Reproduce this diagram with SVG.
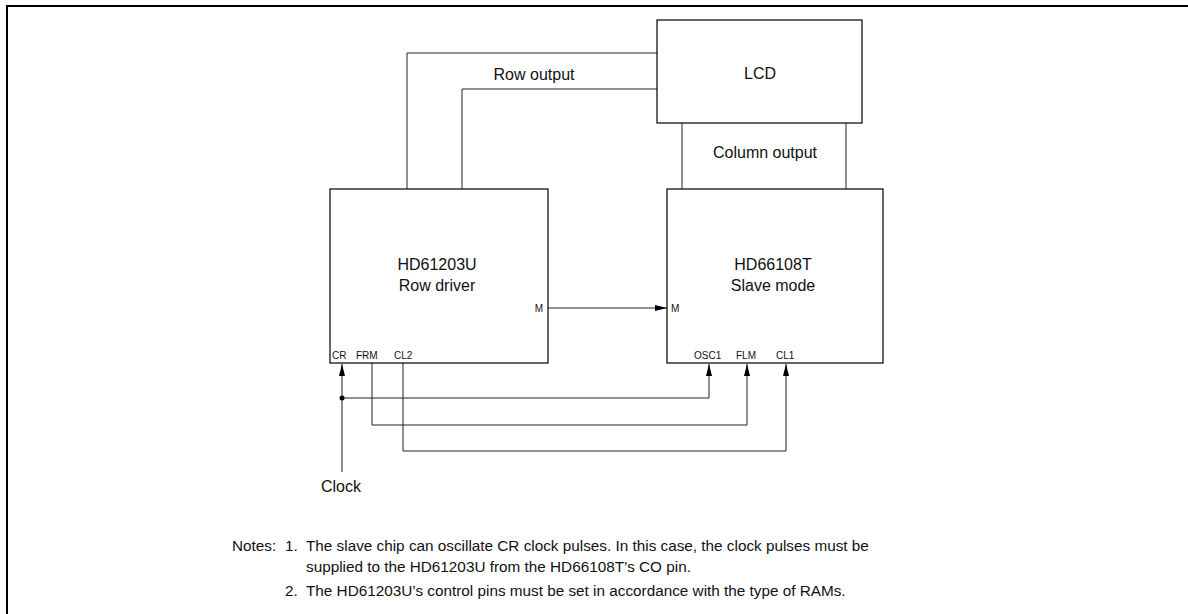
<svg xmlns="http://www.w3.org/2000/svg" width="1188" height="614" viewBox="0 0 1188 614">
<defs>
<marker id="ah" viewBox="0 0 12 6" refX="12" refY="3" markerWidth="12" markerHeight="6" markerUnits="userSpaceOnUse" orient="auto">
<path d="M0,0 L12,3 L0,6 Z" fill="#000"/>
</marker>
<style>
.box{fill:#fff;stroke:#000;stroke-width:1.2}
.ln{fill:none;stroke:#222;stroke-width:1}
.t{font-family:"Liberation Sans",Arial,sans-serif;fill:#111}
.big{font-size:16px;text-anchor:middle}
.pin{font-size:10px}
.note{font-size:15.3px}
</style>
</defs>
<rect x="0" y="0" width="1188" height="614" fill="#fff"/>
<path d="M7,614 V6 H1188" fill="none" stroke="#000" stroke-width="2"/>
<g id="connectors">
<path class="ln" d="M407,189 V53 H657"/>
<path class="ln" d="M462,189 V89 H657"/>
<path class="ln" d="M682,123 V189"/>
<path class="ln" d="M846,123 V189"/>
<path class="ln" d="M548,308 H667" marker-end="url(#ah)"/>
<path class="ln" d="M342,472 V364" marker-end="url(#ah)"/>
<path class="ln" d="M342,398 H709 V364" marker-end="url(#ah)"/>
<path class="ln" d="M372,363 V425 H747 V364" marker-end="url(#ah)"/>
<path class="ln" d="M403,363 V451 H786 V364" marker-end="url(#ah)"/>
<circle cx="342" cy="398" r="2.5" fill="#000"/>
<text class="t big" x="534" y="80">Row output</text>
<text class="t big" x="765" y="158">Column output</text>
</g>
<g id="lcd">
<rect class="box" x="657" y="20" width="205" height="103"/>
<text class="t big" x="760" y="79">LCD</text>
</g>
<g id="row-driver">
<rect class="box" x="330" y="189" width="218" height="174"/>
<text class="t big" x="437" y="270">HD61203U</text>
<text class="t big" x="437" y="291">Row driver</text>
<text class="t pin" x="543" y="312" text-anchor="end">M</text>
<text class="t pin" x="332" y="359">CR</text>
<text class="t pin" x="356" y="359">FRM</text>
<text class="t pin" x="394" y="359">CL2</text>
</g>
<g id="slave">
<rect class="box" x="667" y="189" width="216" height="174"/>
<text class="t big" x="773" y="270">HD66108T</text>
<text class="t big" x="773" y="291">Slave mode</text>
<text class="t pin" x="671" y="312">M</text>
<text class="t pin" x="694" y="359">OSC1</text>
<text class="t pin" x="736" y="359">FLM</text>
<text class="t pin" x="776" y="359">CL1</text>
</g>
<g id="clock">
<text class="t" x="321" y="492" font-size="16">Clock</text>
</g>
<g id="notes">
<text class="t note" x="232" y="551">Notes:</text>
<text class="t note" x="285" y="551">1.</text>
<text class="t note" x="306" y="551">The slave chip can oscillate CR clock pulses. In this case, the clock pulses must be</text>
<text class="t note" x="306" y="572">supplied to the HD61203U from the HD66108T’s CO pin.</text>
<text class="t note" x="285" y="596">2.</text>
<text class="t note" x="306" y="596">The HD61203U’s control pins must be set in accordance with the type of RAMs.</text>
</g>
</svg>
